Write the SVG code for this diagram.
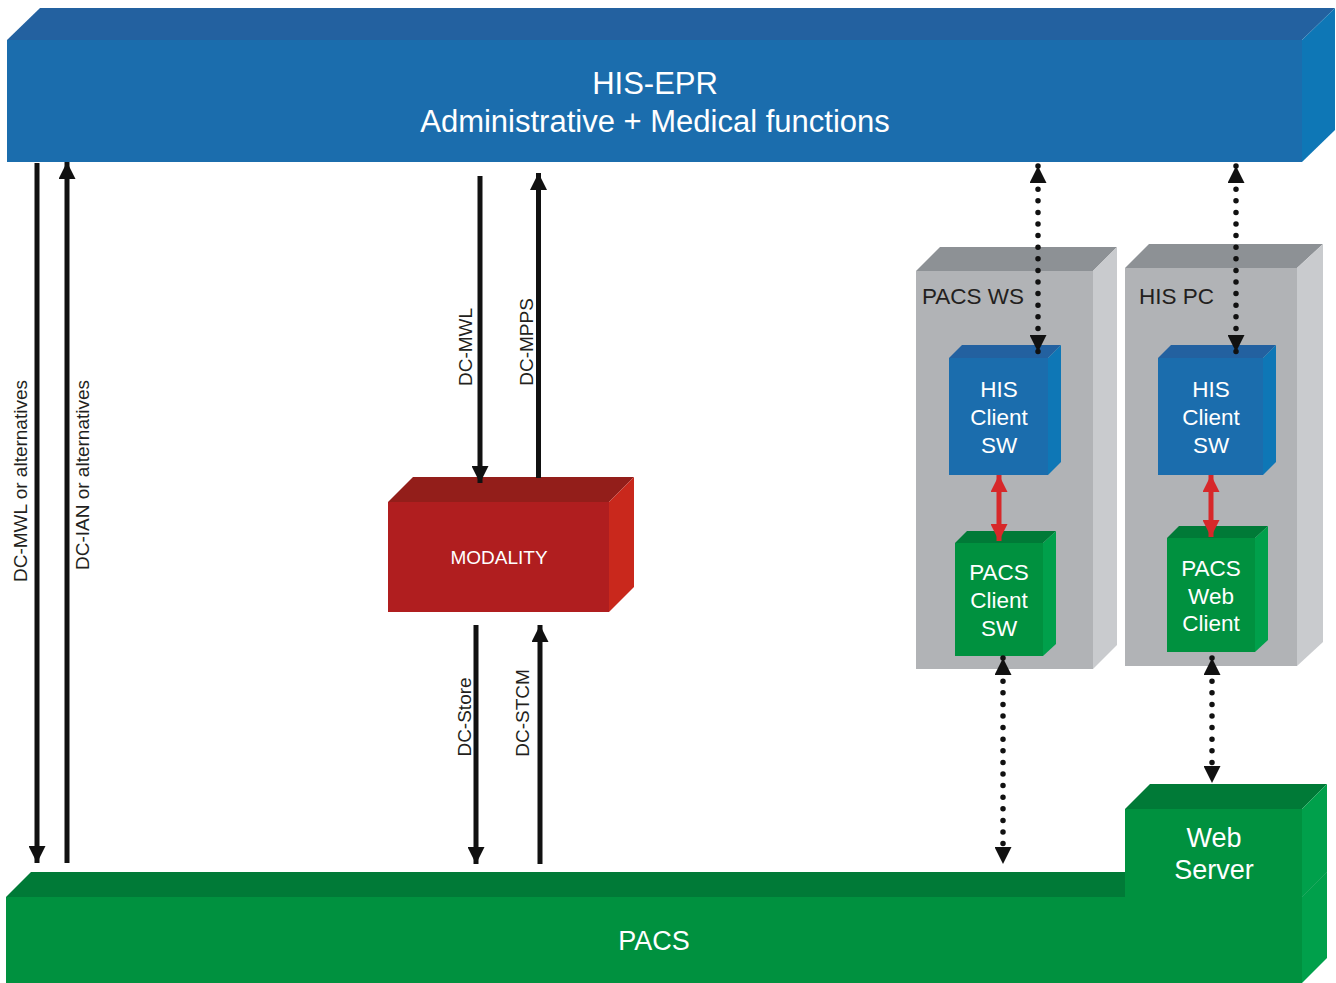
<svg xmlns="http://www.w3.org/2000/svg" width="1336" height="983" viewBox="0 0 1336 983">
<style>
text{font-family:"Liberation Sans",Arial,Helvetica,sans-serif}
.w{fill:#ffffff;text-anchor:middle}
.d{fill:#231f20}
.lbl{fill:#231f20;font-size:19px;text-anchor:middle}
.bF{fill:#1b6dad}.bT{fill:#2361a0}.bR{fill:#0e77b6}
.gF{fill:#00913f}.gT{fill:#007a37}.gR{fill:#00a04b}
.rF{fill:#b01e1f}.rT{fill:#931e1a}.rR{fill:#c9281c}
.yF{fill:#b1b3b6}.yT{fill:#8d9195}.yR{fill:#c9cbce}
.ar{stroke:#111;stroke-width:5;fill:none}
.dot{stroke:#111;stroke-width:5.5;fill:none;stroke-linecap:round;stroke-dasharray:0 11.6}
.red{stroke:#d7282a;stroke-width:5;fill:none}
</style>
<defs>
<marker id="ah" viewBox="0 0 17 17" refX="17" refY="8.5" markerWidth="17" markerHeight="17" markerUnits="userSpaceOnUse" orient="auto-start-reverse"><path d="M0,0 L17,8.5 L0,17 z" fill="#111"/></marker>
<marker id="rh" viewBox="0 0 17 17" refX="17" refY="8.5" markerWidth="17" markerHeight="17" markerUnits="userSpaceOnUse" orient="auto-start-reverse"><path d="M0,0 L17,8.5 L0,17 z" fill="#d7282a"/></marker>
</defs>

<g id="his-epr">
<polygon class="bT" points="7,40 40,8 1335,8 1302,40"/>
<rect class="bF" x="7" y="40" width="1295" height="122"/>
<polygon class="bR" points="1302,40 1335,8 1335,130 1302,162"/>
<text class="w" x="655" y="94" font-size="31">HIS-EPR</text>
<text class="w" x="655" y="132" font-size="31">Administrative + Medical functions</text>
</g>

<g id="pacs">
<polygon class="gT" points="6,897 31,872 1327,872 1302,897"/>
<rect class="gF" x="6" y="897" width="1296" height="86"/>
<polygon class="gR" points="1302,897 1327,872 1327,958 1302,983"/>
<text class="w" x="654" y="950" font-size="27">PACS</text>
</g>

<g id="web-server">
<polygon class="gT" points="1125,809 1150,784 1327,784 1302,809"/>
<rect class="gF" x="1125" y="809" width="177" height="88"/>
<polygon class="gR" points="1302,809 1327,784 1327,872 1302,897"/>
<text class="w" x="1214" y="847" font-size="27">Web</text>
<text class="w" x="1214" y="879" font-size="27">Server</text>
</g>

<g id="modality">
<polygon class="rT" points="388,502 413,477 634,477 609,502"/>
<rect class="rF" x="388" y="502" width="221" height="110"/>
<polygon class="rR" points="609,502 634,477 634,587 609,612"/>
<text class="w" x="499" y="564" font-size="19">MODALITY</text>
</g>

<g id="pacs-ws">
<polygon class="yT" points="916,271 940,247 1117,247 1093,271"/>
<rect class="yF" x="916" y="271" width="177" height="398"/>
<polygon class="yR" points="1093,271 1117,247 1117,645 1093,669"/>
<text class="d" x="922" y="304" font-size="22.5">PACS WS</text>
</g>

<g id="his-pc">
<polygon class="yT" points="1125,268 1149,244 1323,244 1297,268"/>
<rect class="yF" x="1125" y="268" width="172" height="398"/>
<polygon class="yR" points="1297,268 1323,244 1323,642 1297,666"/>
<text class="d" x="1139" y="304" font-size="22.5">HIS PC</text>
</g>

<g id="his-client-ws">
<polygon class="bT" points="949,358 962,345 1061,345 1048,358"/>
<rect class="bF" x="949" y="358" width="99" height="117"/>
<polygon class="bR" points="1048,358 1061,345 1061,462 1048,475"/>
<text class="w" x="999" y="397" font-size="22.5">HIS</text>
<text class="w" x="999" y="425" font-size="22.5">Client</text>
<text class="w" x="999" y="453" font-size="22.5">SW</text>
</g>

<g id="pacs-client-ws">
<polygon class="gT" points="955,543 967,531 1056,531 1043,543"/>
<rect class="gF" x="955" y="543" width="88" height="113"/>
<polygon class="gR" points="1043,543 1056,531 1056,644 1043,656"/>
<text class="w" x="999" y="580" font-size="22.5">PACS</text>
<text class="w" x="999" y="608" font-size="22.5">Client</text>
<text class="w" x="999" y="636" font-size="22.5">SW</text>
</g>

<g id="his-client-pc">
<polygon class="bT" points="1158,358 1171,345 1276,345 1263,358"/>
<rect class="bF" x="1158" y="358" width="105" height="117"/>
<polygon class="bR" points="1263,358 1276,345 1276,462 1263,475"/>
<text class="w" x="1211" y="397" font-size="22.5">HIS</text>
<text class="w" x="1211" y="425" font-size="22.5">Client</text>
<text class="w" x="1211" y="453" font-size="22.5">SW</text>
</g>

<g id="pacs-web-client">
<polygon class="gT" points="1167,538 1179,526 1268,526 1255,538"/>
<rect class="gF" x="1167" y="538" width="88" height="114"/>
<polygon class="gR" points="1255,538 1268,526 1268,640 1255,652"/>
<text class="w" x="1211" y="576" font-size="22.5">PACS</text>
<text class="w" x="1211" y="604" font-size="22.5">Web</text>
<text class="w" x="1211" y="631" font-size="22.5">Client</text>
</g>

<g id="connectors">
<line class="ar" x1="37" y1="163" x2="37" y2="863" marker-end="url(#ah)"/>
<line class="ar" x1="67" y1="863" x2="67" y2="162" marker-end="url(#ah)"/>
<line class="ar" x1="480" y1="176" x2="480" y2="483" marker-end="url(#ah)"/>
<line class="ar" x1="538.5" y1="478" x2="538.5" y2="173" marker-end="url(#ah)"/>
<line class="ar" x1="476" y1="625" x2="476" y2="864" marker-end="url(#ah)"/>
<line class="ar" x1="540" y1="864" x2="540" y2="625" marker-end="url(#ah)"/>
<line class="dot" x1="1038" y1="166" x2="1038" y2="352" marker-start="url(#ah)" marker-end="url(#ah)"/>
<line class="dot" x1="1236" y1="166" x2="1236" y2="352" marker-start="url(#ah)" marker-end="url(#ah)"/>
<line class="dot" x1="1003" y1="658" x2="1003" y2="864" marker-start="url(#ah)" marker-end="url(#ah)"/>
<line class="dot" x1="1212" y1="658" x2="1212" y2="783" marker-start="url(#ah)" marker-end="url(#ah)"/>
<line class="red" x1="999" y1="475" x2="999" y2="541" marker-start="url(#rh)" marker-end="url(#rh)"/>
<line class="red" x1="1211" y1="475" x2="1211" y2="537" marker-start="url(#rh)" marker-end="url(#rh)"/>
<text class="lbl" transform="translate(27,481) rotate(-90)">DC-MWL or alternatives</text>
<text class="lbl" transform="translate(89,475) rotate(-90)">DC-IAN or alternatives</text>
<text class="lbl" transform="translate(472,347) rotate(-90)">DC-MWL</text>
<text class="lbl" transform="translate(533,342) rotate(-90)">DC-MPPS</text>
<text class="lbl" transform="translate(471,717) rotate(-90)">DC-Store</text>
<text class="lbl" transform="translate(529,713) rotate(-90)">DC-STCM</text>
</g>
</svg>
